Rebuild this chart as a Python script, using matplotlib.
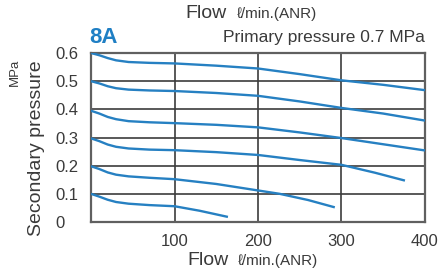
import numpy as np
import matplotlib.pyplot as plt

# ---------------------------------------------------------------
# 8A regulator flow characteristics, primary pressure 0.7 MPa
# flow in l/min (ANR), secondary pressure in MPa
# ---------------------------------------------------------------
flow_06 = [0, 10, 20, 30, 45, 70, 100, 150, 200, 250, 300, 350, 400]
pres_06 = [0.600, 0.592, 0.582, 0.574, 0.568, 0.565, 0.563, 0.555, 0.545,
           0.525, 0.503, 0.487, 0.468]

flow_05 = [0, 10, 20, 30, 45, 70, 100, 150, 200, 250, 300, 350, 400]
pres_05 = [0.500, 0.492, 0.482, 0.475, 0.470, 0.467, 0.465, 0.458, 0.448,
           0.428, 0.405, 0.385, 0.360]

flow_04 = [0, 10, 20, 30, 45, 70, 100, 150, 200, 250, 300, 350, 400]
pres_04 = [0.395, 0.385, 0.373, 0.365, 0.358, 0.354, 0.351, 0.345, 0.336,
           0.318, 0.298, 0.276, 0.254]

flow_03 = [0, 10, 20, 30, 45, 70, 100, 150, 200, 250, 300, 340, 376]
pres_03 = [0.297, 0.287, 0.275, 0.267, 0.261, 0.257, 0.255, 0.248, 0.238,
           0.220, 0.203, 0.175, 0.147]

flow_02 = [0, 10, 20, 30, 45, 70, 100, 150, 200, 226, 260, 292]
pres_02 = [0.198, 0.188, 0.176, 0.168, 0.162, 0.157, 0.152, 0.135, 0.112,
           0.100, 0.078, 0.052]

flow_01 = [0, 10, 20, 30, 45, 70, 100, 130, 164]
pres_01 = [0.100, 0.090, 0.079, 0.071, 0.065, 0.060, 0.056, 0.040, 0.018]

x_ticks = [100, 200, 300, 400]
y_ticks = [0, 0.1, 0.2, 0.3, 0.4, 0.5, 0.6]
y_tick_labels = ['0', '0.1', '0.2', '0.3', '0.4', '0.5', '0.6']

W, H = 442, 271
blue = '#2680c2'
grid_c = '#3c3c3c'
text_c = '#3a3a3a'

plt.rcParams['font.family'] = ['Liberation Sans', 'DejaVu Sans']

fig = plt.figure(figsize=(W / 100, H / 100), dpi=100)
ax = fig.add_axes([91 / W, 1 - 222 / H, (425 - 91) / W, (222 - 53) / H])

curves = [(flow_06, pres_06), (flow_05, pres_05), (flow_04, pres_04),
          (flow_03, pres_03), (flow_02, pres_02), (flow_01, pres_01)]
for fx, py in curves:
    ax.plot(fx, py, color=blue, linewidth=1.7, solid_capstyle='butt',
            solid_joinstyle='round', zorder=3)

ax.set_xlim(0, 400)
ax.set_ylim(0, 0.6)
ax.set_xticks(x_ticks)
ax.set_yticks(y_ticks)
ax.set_yticklabels(y_tick_labels)
ax.grid(True, color=grid_c, linewidth=1.2)
for s in ax.spines.values():
    s.set_color('#606060')
    s.set_linewidth(1.6)

ax.tick_params(axis='x', length=0, pad=9, labelsize=12, labelcolor=text_c)
ax.tick_params(axis='y', length=0, pad=26, labelsize=12, labelcolor=text_c)
for lab in ax.get_yticklabels():
    lab.set_horizontalalignment('left')

# titles and axis texts
fig.text(185 / W, 1 - 18 / H, 'Flow', fontsize=14, color=text_c,
         ha='left', va='baseline')
fig.text(237 / W, 1 - 18 / H, 'ℓ/min.(ANR)', fontsize=11, color=text_c,
         ha='left', va='baseline')
fig.text(187 / W, 1 - 265 / H, 'Flow', fontsize=14, color=text_c,
         ha='left', va='baseline')
fig.text(238 / W, 1 - 265 / H, 'ℓ/min.(ANR)', fontsize=11, color=text_c,
         ha='left', va='baseline')

fig.text(89 / W, 1 - 43 / H, '8A', fontsize=16, fontweight='bold',
         color='#1f7fc4', ha='left', va='baseline')
fig.text(425 / W, 1 - 42 / H, 'Primary pressure 0.7 MPa', fontsize=12.5,
         color=text_c, ha='right', va='baseline')

fig.text(37 / W, 1 - 148 / H, 'Secondary pressure', fontsize=14,
         color=text_c, rotation=90, ha='center', va='center')
fig.text(15 / W, 1 - 72 / H, 'MPa', fontsize=9.5, color=text_c,
         rotation=90, ha='center', va='center')

fig.savefig('out.png', dpi=100)
